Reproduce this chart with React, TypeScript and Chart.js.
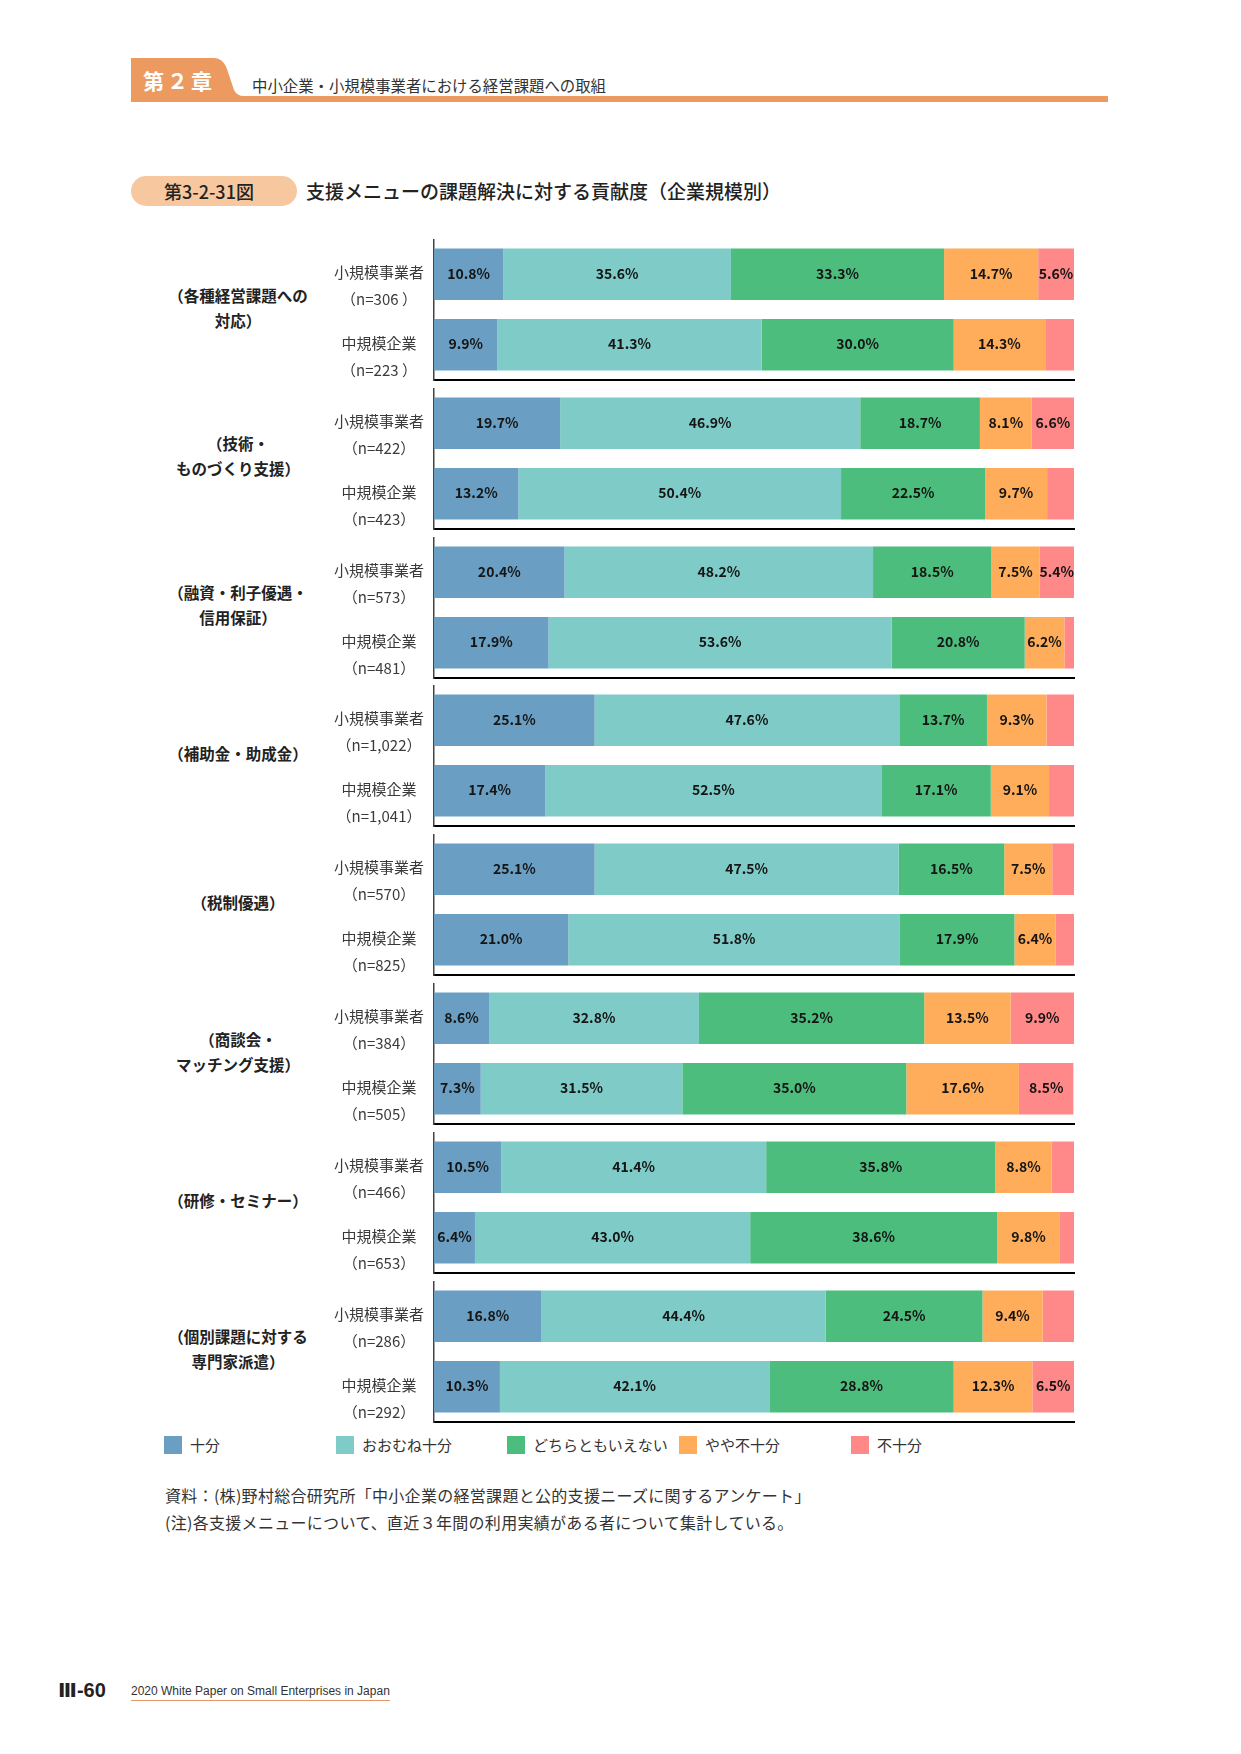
import React, { useEffect, useRef } from "react";
import { Chart, registerables } from "chart.js";

Chart.register(...registerables);

// ---------- data ----------
const groupNames: string[][] = [
  ["（各種経営課題への", "対応）"],
  ["（技術・", "ものづくり支援）"],
  ["（融資・利子優遇・", "信用保証）"],
  ["（補助金・助成金）"],
  ["（税制優遇）"],
  ["（商談会・", "マッチング支援）"],
  ["（研修・セミナー）"],
  ["（個別課題に対する", "専門家派遣）"],
];
const sizeNames = ["小規模事業者", "中規模企業"];
const sampleSizes: string[][] = [
  ["（n=306 ）", "（n=223 ）"],
  ["（n=422）", "（n=423）"],
  ["（n=573）", "（n=481）"],
  ["（n=1,022）", "（n=1,041）"],
  ["（n=570）", "（n=825）"],
  ["（n=384）", "（n=505）"],
  ["（n=466）", "（n=653）"],
  ["（n=286）", "（n=292）"],
];
const seriesNames = ["十分", "おおむね十分", "どちらともいえない", "やや不十分", "不十分"];
const seriesColors = ["#6a9fc3", "#7ecbc7", "#4cbd7c", "#ffad5b", "#ff8888"];
// rows: [group1 小, group1 中, group2 小, group2 中, ...]
const sufficient = [10.8, 9.9, 19.7, 13.2, 20.4, 17.9, 25.1, 17.4, 25.1, 21.0, 8.6, 7.3, 10.5, 6.4, 16.8, 10.3];
const mostlySufficient = [35.6, 41.3, 46.9, 50.4, 48.2, 53.6, 47.6, 52.5, 47.5, 51.8, 32.8, 31.5, 41.4, 43.0, 44.4, 42.1];
const neither = [33.3, 30.0, 18.7, 22.5, 18.5, 20.8, 13.7, 17.1, 16.5, 17.9, 35.2, 35.0, 35.8, 38.6, 24.5, 28.8];
const somewhatInsufficient = [14.7, 14.3, 8.1, 9.7, 7.5, 6.2, 9.3, 9.1, 7.5, 6.4, 13.5, 17.6, 8.8, 9.8, 9.4, 12.3];
const insufficient = [5.6, 4.5, 6.6, 4.2, 5.4, 1.5, 4.3, 3.9, 3.4, 2.9, 9.9, 8.5, 3.5, 2.2, 4.9, 6.5];
const seriesValues = [sufficient, mostlySufficient, neither, somewhatInsufficient, insufficient];
const labelThreshold = 5;

const headerChapter = "第２章";
const headerText = "中小企業・小規模事業者における経営課題への取組";
const figureNo = "第3-2-31図";
const figureTitle = "支援メニューの課題解決に対する貢献度（企業規模別）";
const notes = [
  "資料：(株)野村総合研究所「中小企業の経営課題と公的支援ニーズに関するアンケート」",
  "(注)各支援メニューについて、直近３年間の利用実績がある者について集計している。",
];
const footerPage = "Ⅲ-60";
const footerText = "2020 White Paper on Small Enterprises in Japan";

// ---------- layout ----------
const JP = '"Noto Sans CJK JP", "Noto Sans", sans-serif';
const GROUP_TOP0 = 239;
const GROUP_PITCH = 148.8;
const AREA_H = 141;
const CANVAS_LEFT = 300;
const CANVAS_W = 775;
const CANVAS_H = AREA_H + 2;
const legendX = [164, 336, 507, 679, 851];

const valueLabelPlugin = {
  id: "valueLabels",
  afterDatasetsDraw(chart: any) {
    const ctx = chart.ctx;
    ctx.save();
    ctx.font = `700 14px ${JP}`;
    ctx.fillStyle = "#151515";
    ctx.textAlign = "center";
    ctx.textBaseline = "middle";
    chart.data.datasets.forEach((ds: any, di: number) => {
      const meta = chart.getDatasetMeta(di);
      meta.data.forEach((bar: any, i: number) => {
        const v = ds.data[i];
        if (v < labelThreshold) return;
        const p = bar.getProps(["x", "y", "base"], true);
        ctx.fillText(v.toFixed(1) + "%", (p.x + p.base) / 2, p.y - 1);
      });
    });
    ctx.restore();
  },
};

function GroupChart({ g }: { g: number }) {
  const ref = useRef<HTMLCanvasElement | null>(null);
  useEffect(() => {
    if (!ref.current) return;
    const chart = new Chart(ref.current, {
      type: "bar",
      data: {
        labels: sizeNames.map((s, i) => [s, sampleSizes[g][i]]),
        datasets: seriesNames.map((name, k) => ({
          label: name,
          data: seriesValues[k].slice(g * 2, g * 2 + 2),
          backgroundColor: seriesColors[k],
          borderWidth: 0,
          categoryPercentage: 1,
          barPercentage: 0.73,
        })),
      },
      options: {
        indexAxis: "y",
        animation: false,
        responsive: false,
        maintainAspectRatio: false,
        devicePixelRatio: 1,
        layout: { padding: { top: 0, right: 1, bottom: 2, left: 0 } },
        plugins: { legend: { display: false }, tooltip: { enabled: false } },
        scales: {
          x: {
            stacked: true,
            min: 0,
            max: 100,
            grid: { display: false, drawTicks: false },
            ticks: { display: false },
            border: { display: true, color: "#000", width: 2 },
            afterFit: (s: any) => {
              s.height = 0;
              s.paddingLeft = 0;
              s.paddingRight = 0;
            },
          },
          y: {
            stacked: true,
            grid: { display: false, drawTicks: false },
            border: { display: true, color: "#444", width: 1.5 },
            ticks: {
              padding: 10,
              crossAlign: "center",
              labelOffset: 12,
              color: "#3a3a3a",
              font: { family: JP, size: 15, lineHeight: "27px" },
            },
            afterFit: (s: any) => {
              s.width = 134;
              s.paddingTop = 0;
              s.paddingBottom = 0;
            },
          },
        },
      } as any,
      plugins: [valueLabelPlugin],
    });
    return () => chart.destroy();
  }, [g]);
  const top = GROUP_TOP0 + g * GROUP_PITCH;
  return (
    <>
      <div
        style={{
          position: "absolute",
          left: 147,
          width: 182,
          top: top - 2,
          height: AREA_H,
          display: "flex",
          flexDirection: "column",
          justifyContent: "center",
          alignItems: "center",
          fontFamily: JP,
          fontWeight: 700,
          fontSize: 15.5,
          lineHeight: "25px",
          color: "#222",
          textAlign: "center",
        }}
      >
        {groupNames[g].map((t, i) => (
          <div key={i}>{t}</div>
        ))}
      </div>
      <canvas
        ref={ref}
        width={CANVAS_W}
        height={CANVAS_H}
        style={{ position: "absolute", left: CANVAS_LEFT, top, width: CANVAS_W, height: CANVAS_H }}
      />
    </>
  );
}

export default function App() {
  return (
    <div
      style={{
        position: "absolute",
        left: 0,
        top: 0,
        width: 1241,
        height: 1754,
        background: "#fff",
        fontFamily: JP,
        overflow: "hidden",
      }}
    >
      {/* header tab */}
      <svg width={1241} height={110} style={{ position: "absolute", left: 0, top: 0 }}>
        <path d="M131 58 H214 Q224 58 228 72 L234 90 Q237 96 244 96 H1108 V102 H131 Z" fill="#ec9a5f" />
      </svg>
      <div
        style={{
          position: "absolute",
          left: 143,
          top: 66,
          fontSize: 21,
          fontWeight: 700,
          color: "#fff",
          letterSpacing: 3,
          lineHeight: "28px",
        }}
      >
        {headerChapter}
      </div>
      <div style={{ position: "absolute", left: 252, top: 74, fontSize: 15.4, color: "#333", lineHeight: "22px", whiteSpace: "nowrap" }}>
        {headerText}
      </div>

      {/* figure title */}
      <div
        style={{
          position: "absolute",
          left: 131,
          top: 176,
          width: 166,
          height: 30,
          borderRadius: 15,
          background: "#f7c8a0",
        }}
      />
      <div
        style={{
          position: "absolute",
          left: 164,
          top: 177,
          fontSize: 18,
          fontWeight: 500,
          color: "#222",
          lineHeight: "28px",
        }}
      >
        {figureNo}
      </div>
      <div
        style={{
          position: "absolute",
          left: 306,
          top: 177,
          fontSize: 19,
          fontWeight: 500,
          color: "#222",
          lineHeight: "28px",
          whiteSpace: "nowrap",
        }}
      >
        {figureTitle}
      </div>

      {groupNames.map((_, g) => (
        <GroupChart key={g} g={g} />
      ))}

      {/* legend */}
      {seriesNames.map((name, k) => (
        <div key={k} style={{ position: "absolute", left: legendX[k], top: 1435, height: 20, display: "flex", alignItems: "center" }}>
          <div style={{ width: 18, height: 18, background: seriesColors[k] }} />
          <div style={{ marginLeft: 8, fontSize: 15, color: "#333", lineHeight: "20px" }}>{name}</div>
        </div>
      ))}

      {/* notes */}
      {notes.map((t, i) => (
        <div
          key={i}
          style={{
            position: "absolute",
            left: 165,
            top: 1483 + i * 27,
            fontSize: 16,
            letterSpacing: 0.3,
            color: "#333",
            lineHeight: "24px",
            whiteSpace: "nowrap",
          }}
        >
          {t}
        </div>
      ))}

      {/* footer */}
      <div
        style={{
          position: "absolute",
          left: 58,
          top: 1677,
          fontSize: 20,
          fontWeight: 700,
          color: "#222",
          lineHeight: "26px",
          fontFamily: '"Liberation Sans", "DejaVu Sans", sans-serif',
        }}
      >
        {footerPage}
      </div>
      <div
        style={{
          position: "absolute",
          left: 131,
          top: 1683,
          fontSize: 12,
          color: "#333",
          lineHeight: "16px",
          fontFamily: '"Liberation Sans", sans-serif',
          borderBottom: "1px solid #e49a6a",
          paddingBottom: 1,
        }}
      >
        {footerText}
      </div>
    </div>
  );
}
